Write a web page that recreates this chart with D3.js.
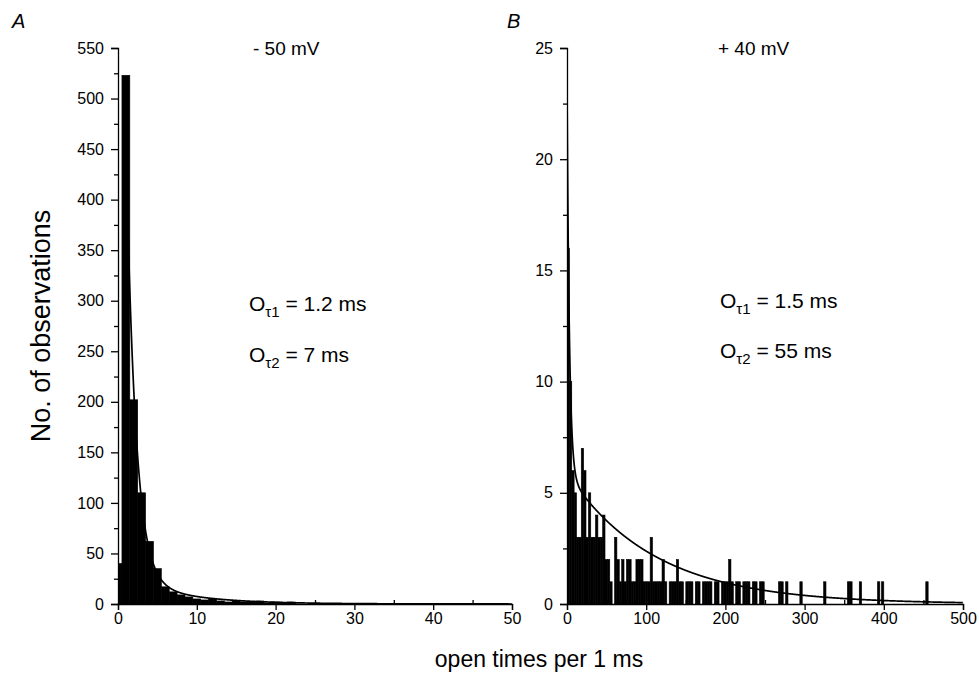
<!DOCTYPE html>
<html>
<head>
<meta charset="utf-8">
<script src="https://cdn.jsdelivr.net/npm/d3@7"></script>
<style>
  body { margin: 0; background: #fff; }
  svg { font-family: "Liberation Sans", Arial, sans-serif; }
  .axis path, .axis line { stroke: #000; stroke-width: 1.3; }
  .axis text { font-size: 16px; fill: #000; }
</style>
</head>
<body>
<div id="wrapper"></div>
<script>
// Panel A, -50 mV: histogram bin edges (ms) and counts
const edgesA = [0.1, 0.5, 1.5, 2.5, 3.5, 4.5, 5.5, 6.5, 7.5, 8.5, 9.5, 10.5, 11.5,
                12.5, 13.5, 14.5, 15.5, 16.5, 17.5, 18.5, 19.5, 20.5, 21.5, 22.5]
const countsA = [40, 523, 202, 110, 62, 35, 17, 12, 9, 7, 5, 4, 5, 3, 2, 3, 2, 2, 3, 1, 2, 1, 2]
// fitted bi-exponential drawn over panel A (amplitudes, time constants in ms)
const fitAmpA = [1000, 30]
const fitTauA = [1.2, 7]

// Panel B, +40 mV: bin start (ms) of every non-empty bin, and its count
const binWidthB = 3
const binStartB = [0, 3, 6, 9, 12, 15, 18, 21, 24, 27, 30, 33, 36, 39, 42, 45, 48, 51, 54,
                   60, 63, 66, 69, 72, 75, 78, 81, 84, 87, 90, 93, 96, 99, 102, 105, 108,
                   111, 114, 117, 120, 123, 129, 132, 135, 138, 141, 144, 150, 153, 156,
                   162, 165, 171, 174, 177, 180, 186, 189, 195, 198, 201, 204, 207,
                   213, 216, 222, 225, 228, 234, 237, 243, 246, 267, 270, 276, 294,
                   324, 354, 357, 369, 392, 397, 453]
const countsB = [16, 10, 6, 5, 3, 3, 7, 6, 3, 5, 3, 3, 4, 3, 3, 4, 2, 2, 1,
                 3, 2, 1, 2, 1, 2, 2, 1, 1, 2, 2, 2, 1, 1, 1, 3, 1,
                 1, 1, 1, 2, 1, 1, 1, 1, 2, 1, 1, 1, 1, 1,
                 1, 1, 1, 1, 1, 1, 1, 1, 1, 1, 1, 2, 1,
                 1, 1, 1, 1, 1, 1, 1, 1, 1, 1, 1, 1, 1,
                 1, 1, 1, 1, 1, 1, 1]
const fitAmpB = [17.5, 5.9]
const fitTauB = [3, 110]

// axis tick values
const xTicksA = [0, 10, 20, 30, 40, 50]
const xMinorA = [5, 15, 25, 35, 45]
const yTicksA = [0, 50, 100, 150, 200, 250, 300, 350, 400, 450, 500, 550]
const yMinorA = [25, 75, 125, 175, 225, 275, 325, 375, 425, 475, 525]
const xTicksB = [0, 100, 200, 300, 400, 500]
const xMinorB = [50, 150, 250, 350, 450]
const yTicksB = [0, 5, 10, 15, 20, 25]
const yMinorB = [2.5, 7.5, 12.5, 17.5, 22.5]

const width = 979
const height = 673
const plotTop = 48
const plotBottom = 604

const svg = d3.select("#wrapper").append("svg")
    .attr("width", width)
    .attr("height", height)

const defs = svg.append("defs")

function biexp(amps, taus) {
  return t => amps[0] * Math.exp(-t / taus[0]) + amps[1] * Math.exp(-t / taus[1])
}

function drawPanel(p) {
  const x = d3.scaleLinear().domain([0, p.xMax]).range([p.left, p.right])
  const y = d3.scaleLinear().domain([0, p.yMax]).range([plotBottom, plotTop])

  const clipId = "clip-" + p.id
  defs.append("clipPath").attr("id", clipId)
    .append("rect")
      .attr("x", p.left).attr("y", plotTop)
      .attr("width", p.right - p.left).attr("height", plotBottom - plotTop)

  const g = svg.append("g").attr("clip-path", `url(#${clipId})`)

  // bars
  g.selectAll("rect.bar")
    .data(p.bins)
    .join("rect")
      .attr("class", "bar")
      .attr("x", d => x(d.x0))
      .attr("width", d => x(d.x1) - x(d.x0))
      .attr("y", d => y(d.n))
      .attr("height", d => y(0) - y(d.n))
      .attr("fill", "#000")
      .attr("stroke", "#000")
      .attr("stroke-width", 0.6)

  // fitted curve
  const f = biexp(p.amps, p.taus)
  const ts = d3.range(p.fitStart, p.xMax, p.xMax / 2000)
  const line = d3.line().x(t => x(t)).y(t => y(f(t)))
  g.append("path")
      .attr("d", line(ts))
      .attr("fill", "none")
      .attr("stroke", "#000")
      .attr("stroke-width", 1.7)

  // axes
  svg.append("g")
      .attr("class", "axis")
      .attr("transform", `translate(0,${plotBottom})`)
      .call(d3.axisBottom(x).tickValues(p.xTicks).tickSize(6).tickPadding(3).tickFormat(d3.format("d")))
  svg.append("g")
      .attr("class", "axis")
      .attr("transform", `translate(0,${plotBottom})`)
      .call(d3.axisBottom(x).tickValues(p.xMinor).tickSize(-4).tickFormat(""))
      .call(a => a.select(".domain").remove())

  svg.append("g")
      .attr("class", "axis")
      .attr("transform", `translate(${p.left},0)`)
      .call(d3.axisLeft(y).tickValues(p.yTicks).tickSize(7).tickPadding(7).tickFormat(d3.format("d")))
  svg.append("g")
      .attr("class", "axis")
      .attr("transform", `translate(${p.left},0)`)
      .call(d3.axisLeft(y).tickValues(p.yMinor).tickSize(4).tickFormat(""))
      .call(a => a.select(".domain").remove())

  // panel letter and voltage
  svg.append("text")
      .attr("x", p.letterX).attr("y", 28)
      .attr("font-size", 20).attr("font-style", "italic")
      .text(p.letter)
  svg.append("text")
      .attr("x", p.titleX).attr("y", 55)
      .attr("font-size", 19)
      .text(p.title)

  // time constants
  p.notes.forEach((n, i) => {
    const t = svg.append("text")
        .attr("x", p.noteX).attr("y", p.noteY[i])
        .attr("font-size", 21)
    t.append("tspan").text("O")
    t.append("tspan").attr("dy", 6).attr("font-size", 15).text("\u03c4" + (i + 1))
    t.append("tspan").attr("dy", -6).text(" = " + n)
  })
}

drawPanel({
  id: "a", letter: "A", letterX: 12, title: "- 50 mV", titleX: 253,
  left: 118, right: 512, xMax: 50, yMax: 550,
  bins: countsA.map((n, i) => ({ x0: edgesA[i], x1: edgesA[i + 1], n })),
  amps: fitAmpA, taus: fitTauA, fitStart: 0.86,
  xTicks: xTicksA, xMinor: xMinorA, yTicks: yTicksA, yMinor: yMinorA,
  notes: ["1.2 ms", "7 ms"], noteX: 249, noteY: [311, 362]
})

drawPanel({
  id: "b", letter: "B", letterX: 507, title: "+ 40 mV", titleX: 718,
  left: 567, right: 963, xMax: 500, yMax: 25,
  bins: countsB.map((n, i) => ({ x0: binStartB[i], x1: binStartB[i] + binWidthB, n })),
  amps: fitAmpB, taus: fitTauB, fitStart: 0,
  xTicks: xTicksB, xMinor: xMinorB, yTicks: yTicksB, yMinor: yMinorB,
  notes: ["1.5 ms", "55 ms"], noteX: 720, noteY: [308, 358]
})

// shared axis titles
svg.append("text")
    .attr("transform", "translate(50,326) rotate(-90)")
    .attr("text-anchor", "middle")
    .attr("font-size", 27)
    .text("No. of observations")

svg.append("text")
    .attr("x", 539).attr("y", 667)
    .attr("text-anchor", "middle")
    .attr("font-size", 23)
    .text("open times per 1 ms")
</script>
</body>
</html>
